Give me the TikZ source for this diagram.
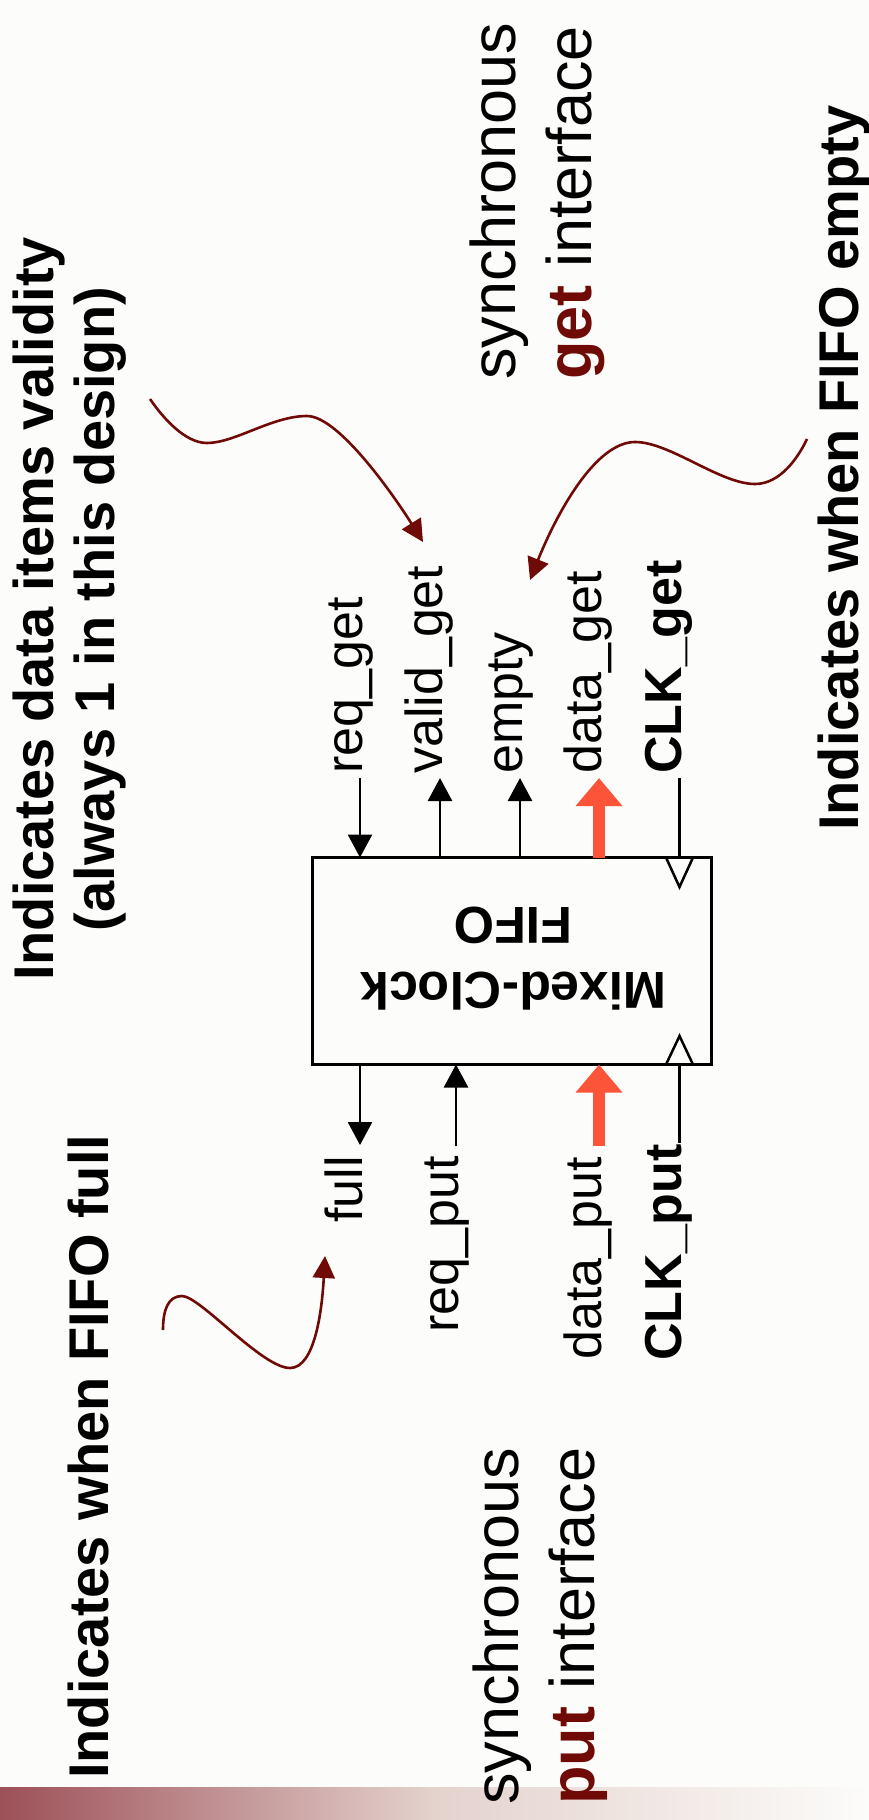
\documentclass[tikz,border=0pt]{standalone}
\usepackage{fontspec}
\setmainfont{Liberation Sans}
\usetikzlibrary{arrows.meta}
\definecolor{bg}{RGB}{252,252,250}
\definecolor{noteRed}{RGB}{112,10,6}
\definecolor{busRed}{RGB}{252,84,56}
\definecolor{barDark}{RGB}{157,80,88}
\definecolor{barMid}{RGB}{228,210,205}

\begin{document}
\begin{tikzpicture}[x=1pt,y=-1pt,
  lbl/.style={rotate=90, inner sep=0pt, anchor=mid west, font=\fontsize{52}{60}\selectfont},
  boldlbl/.style={lbl, font=\fontsize{52}{60}\selectfont\bfseries},
  sig/.style={line width=2.7pt},
  sigarr/.style={sig, -{Triangle[length=23pt,width=24pt]}},
  bus/.style={line width=12.7pt, busRed, -{Triangle[length=28pt,width=45pt]}},
  note/.style={line width=2.6pt, noteRed, -{Triangle[length=22pt,width=22pt]}},
  notetext/.style={rotate=90, inner sep=0pt, font=\fontsize{56}{61}\selectfont\bfseries},
  iface/.style={rotate=90, inner sep=0pt, align=left, anchor=north west, font=\fontsize{63}{76}\selectfont},
  clk/.style={line width=2.5pt, line join=miter},
]
% page background and fading bar
\fill[bg] (0,0) rectangle (869,1820);
\useasboundingbox (0,0) rectangle (869,1820);
\shade[left color=barDark, right color=bg, middle color=barMid] (0,1787) rectangle (869,1820);

% FIFO block
\node[draw, line width=3pt, minimum width=399pt, minimum height=207pt,
      inner sep=0pt, outer sep=0pt] (fifo) at (511.5,961) {};
\node[rotate=180, inner sep=0pt, align=center,
      font=\fontsize{52}{65}\selectfont\bfseries] (fifoname) at (513.5,958.3) {Mixed-Clock\\FIFO};

% clock inputs
\draw[clk] (666,857.5) -- (679.5,887) -- (693,857.5);
\draw[clk] (666,1064.5) -- (679.5,1036) -- (693,1064.5);

% get side signals
\node[lbl] (reqget) at (360,774) {req\_get};
\node[lbl] (validget) at (440,774) {valid\_get};
\node[lbl] (emptysig) at (520,774) {empty};
\node[lbl] (dataget) at (599,774) {data\_get};
\node[boldlbl] (clkget) at (679,774) {CLK\_get};

\coordinate (reqgetpin) at (360,778);
\coordinate (validgetpin) at (440,778);
\coordinate (emptypin) at (520,778);
\coordinate (datagetpin) at (599,778);
\coordinate (clkgetpin) at (679.5,778);

\draw[sigarr] (reqgetpin) -- (reqgetpin |- fifo.north);
\draw[sigarr] (validgetpin |- fifo.north) -- (validgetpin);
\draw[sigarr] (emptypin |- fifo.north) -- (emptypin);
\draw[bus] (datagetpin |- fifo.north) -- (datagetpin);
\draw[sig] (clkgetpin) -- (clkgetpin |- fifo.north);

% put side signals
\node[lbl] (fullsig) at (360,1223) {full};
\node[lbl] (reqput) at (456,1333) {req\_put};
\node[lbl] (dataput) at (599,1360) {data\_put};
\node[boldlbl] (clkput) at (679,1361) {CLK\_put};

\coordinate (fullpin) at (360,1145);
\coordinate (reqputpin) at (456,1146);
\coordinate (dataputpin) at (599,1146);
\coordinate (clkputpin) at (679.5,1143);

\draw[sigarr] (fullpin |- fifo.south) -- (fullpin);
\draw[sigarr] (reqputpin) -- (reqputpin |- fifo.south);
\draw[bus] (dataputpin) -- (dataputpin |- fifo.south);
\draw[sig] (clkputpin) -- (clkputpin |- fifo.south);

% interface captions
\node[iface] (getif) at (470,380) {synchronous\\\textbf{\color{noteRed}get} interface};
\node[iface] (putif) at (473,1805) {synchronous\\\textbf{\color{noteRed}put} interface};

% annotations
\node[notetext, align=center, anchor=north] (validnote) at (13,609)
  {Indicates data items validity\\(always 1 in this design)};
\node[notetext, anchor=base west] (fullnote) at (108,1779) {Indicates when FIFO full};
\node[notetext, anchor=base west] (emptynote) at (858,831) {Indicates when FIFO empty};

\coordinate (validtail) at (150,399);
\coordinate (validhead) at (423,542);
\coordinate (emptytail) at (807,439);
\coordinate (emptyhead) at (530,580);
\coordinate (fulltail) at (163,1330);
\coordinate (fullhead) at (325,1256);

\draw[note] (validtail) .. controls (163,418) and (185,443) .. (207,443)
  .. controls (235,443) and (272,416) .. (307,416)
  .. controls (340,416) and (398,502) .. (validhead);
\draw[note] (emptytail) .. controls (798,458) and (780,484) .. (755,484)
  .. controls (720,484) and (670,442) .. (635,442)
  .. controls (595,442) and (556,515) .. (emptyhead);
\draw[note] (fulltail) .. controls (163,1310) and (168,1296) .. (182,1296)
  .. controls (200,1296) and (262,1368) .. (290,1368)
  .. controls (315,1368) and (322,1310) .. (fullhead);
\end{tikzpicture}
\end{document}
